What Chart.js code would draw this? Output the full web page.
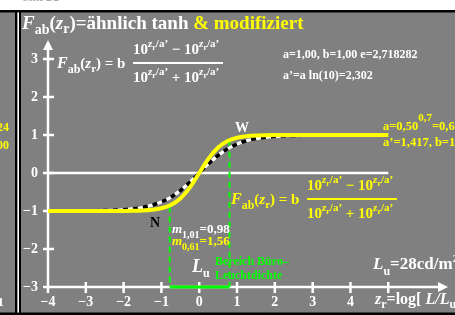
<!DOCTYPE html>
<html>
<head>
<meta charset="utf-8">
<script src="https://cdn.jsdelivr.net/npm/chart.js@4"></script>
<style>
  html, body { margin: 0; padding: 0; background: #fff; }
  #wrap { width: 455px; height: 315px; }
</style>
</head>
<body>
<div id="wrap"><canvas id="c" width="455" height="315"></canvas></div>
<script>
'use strict';

// ── data ──────────────────────────────────────────────────
const zr = [-4, -3.75, -3.5, -3.25, -3, -2.75, -2.5, -2.25, -2, -1.75, -1.5, -1.25, -1, -0.75, -0.5, -0.25,
  0, 0.25, 0.5, 0.75, 1, 1.25, 1.5, 1.75, 2, 2.25, 2.5, 2.75, 3, 3.25, 3.5, 3.75, 4, 4.25, 4.5, 4.75, 5];
// black/white dashed curve (a=1,00)
const fTanh = [-0.999, -0.999, -0.998, -0.997, -0.995, -0.992, -0.987, -0.978, -0.964, -0.941, -0.905, -0.848, -0.762, -0.635, -0.462, -0.245,
  0, 0.245, 0.462, 0.635, 0.762, 0.848, 0.905, 0.941, 0.964, 0.978, 0.987, 0.992, 0.995, 0.997, 0.998, 0.999, 0.999, 1.0, 1.0, 1.0, 1.0];
// yellow curve (modifiziert, a'=1,417)
const fMod = [-1.0, -1.0, -1.0, -1.0, -1.0, -1.0, -0.999, -0.999, -0.997, -0.993, -0.985, -0.966, -0.926, -0.840, -0.671, -0.385,
  0, 0.385, 0.671, 0.840, 0.926, 0.966, 0.985, 0.993, 0.997, 0.999, 0.999, 1.0, 1.0, 1.0, 1.0, 1.0, 1.0, 1.0, 1.0, 1.0, 1.0];
// green range "Bereich Büro-Leuchtdichte"
const rangeX = [-0.78, 0.80];
const rangeTop = [-0.88, 0.82];
const zeroLineX = [-4, 5];
const xTicks = [-4, -3, -2, -1, 0, 1, 2, 3, 4, 5];
const xTickLabels = ['−4', '−3', '−2', '−1', '0', '1', '2', '3', '4', ''];
const yTicks = [-3, -2, -1, 0, 1, 2, 3];
const yTickLabels = ['−3', '−2', '−1', '0', '1', '2', '3'];

const GRAY = '#808080', WHITE = '#ffffff', YELLOW = '#ffff00', GREEN = '#00ff00';
const SERIF = "'Liberation Serif','DejaVu Serif',serif";

const pts = (xa, ya) => xa.map((x, i) => ({ x, y: ya[i] }));

// draw a run of text parts: {t, c, it, s, dy}
function rich(ctx, x, y, parts, base) {
  let cx = x;
  parts.forEach(p => {
    const size = p.s || base.s;
    ctx.font = `${p.it ? 'italic ' : ''}bold ${size}px ${SERIF}`;
    ctx.fillStyle = p.c || base.c;
    ctx.textBaseline = 'alphabetic';
    ctx.textAlign = 'left';
    ctx.fillText(p.t, cx, y + (p.dy || 0));
    cx += ctx.measureText(p.t).width;
  });
  return cx;
}

function powTerm(sign) {
  return [
    { t: sign + '10' },
    { t: 'z', it: true, s: 11, dy: -7 },
    { t: 'r', s: 8, dy: -4 },
    { t: '/a’', s: 11, dy: -7 },
  ];
}

function formula(ctx, x, barX, barY, color) {
  const b = { s: 15, c: color };
  rich(ctx, x, barY + 5, [
    { t: 'F', it: true, s: 16 }, { t: 'ab', s: 12, dy: 5 },
    { t: '(' }, { t: 'z', it: true }, { t: 'r', s: 11, dy: 4 }, { t: ') = b' }
  ], b);
  const num = powTerm('').concat(powTerm(' − '));
  const den = powTerm('').concat(powTerm(' + '));
  rich(ctx, barX, barY - 9, num, b);
  rich(ctx, barX, barY + 19, den, b);
  ctx.fillStyle = color;
  ctx.fillRect(barX, barY - 1, 90, 2);
}

const decor = {
  id: 'decor',
  beforeDraw(chart) {
    const ctx = chart.ctx;
    ctx.save();
    ctx.fillStyle = '#fff';
    ctx.fillRect(0, 0, 455, 315);
    ctx.fillStyle = GRAY;
    ctx.fillRect(0, 12, 455, 303);
    ctx.fillStyle = '#000';
    ctx.fillRect(0, 10, 455, 2.5);
    ctx.fillRect(0, 312.5, 455, 3);
    ctx.fillRect(15, 10, 2.5, 305);
    ctx.fillRect(19, 10, 2, 305);
    ctx.fillStyle = '#fff';
    ctx.fillRect(17.5, 12.5, 1.5, 300);
    ctx.font = `bold 10px ${SERIF}`;
    ctx.fillStyle = '#aaa';
    ctx.fillText('Seite 2/2', 23, 1);
    // left neighbour panel (cut)
    ctx.textAlign = 'right';
    ctx.font = `bold 12px ${SERIF}`;
    ctx.fillStyle = YELLOW;
    ctx.fillText('0,624', 9, 131);
    ctx.fillText('b=1,00', 9, 149);
    ctx.fillStyle = WHITE;
    ctx.font = `bold 13px ${SERIF}`;
    ctx.fillText('1', 4, 306);
    ctx.restore();
  },
  beforeDatasetsDraw(chart) {
    const ctx = chart.ctx, xs = chart.scales.x, ys = chart.scales.y;
    const x0 = xs.getPixelForValue(-4), yb = ys.getPixelForValue(-3);
    const xEnd = chart.chartArea.right, yTop = chart.chartArea.top;
    ctx.save();
    ctx.strokeStyle = WHITE;
    ctx.fillStyle = WHITE;
    ctx.lineWidth = 2.5;
    ctx.beginPath();
    ctx.moveTo(x0, yb); ctx.lineTo(x0, yTop + 8);
    ctx.moveTo(x0, yb); ctx.lineTo(xEnd - 8, yb);
    yTicks.forEach(v => {
      const y = ys.getPixelForValue(v);
      ctx.moveTo(x0 - 5, y); ctx.lineTo(x0 + 6, y);
    });
    xTicks.forEach(v => {
      const x = xs.getPixelForValue(v);
      ctx.moveTo(x, yb - 5); ctx.lineTo(x, yb + 6);
    });
    ctx.stroke();
    ctx.beginPath();
    ctx.moveTo(x0, yTop); ctx.lineTo(x0 - 5, yTop + 10); ctx.lineTo(x0 + 5, yTop + 10); ctx.closePath();
    ctx.moveTo(xEnd, yb); ctx.lineTo(xEnd - 10, yb - 5); ctx.lineTo(xEnd - 10, yb + 5); ctx.closePath();
    ctx.fill();
    ctx.restore();
  },
  afterDraw(chart) {
    const ctx = chart.ctx;
    ctx.save();
    const t = { s: 19, c: WHITE };
    rich(ctx, 22, 29, [
      { t: 'F', it: true }, { t: 'ab', s: 14, dy: 5 }, { t: '(' }, { t: 'z', it: true },
      { t: 'r', s: 14, dy: 4 }, { t: ')=ähnlich tanh ' }, { t: '& modifiziert', c: YELLOW }
    ], t);
    formula(ctx, 57, 133, 63, WHITE);
    formula(ctx, 231, 307, 199, YELLOW);

    const sm = { s: 12, c: WHITE };
    rich(ctx, 283, 58, [{ t: 'a=1,00, b=1,00 e=2,718282' }], sm);
    rich(ctx, 283, 79, [{ t: 'a’=a ln(10)=2,302' }], sm);
    const ys = { s: 12.5, c: YELLOW };
    rich(ctx, 383, 130, [{ t: 'a=0,50' }, { t: '0,7', s: 11, dy: -9 }, { t: '=0,624' }], ys);
    rich(ctx, 383, 146, [{ t: 'a’=1,417, b=1,00' }], ys);

    rich(ctx, 235, 132, [{ t: 'W' }], { s: 14, c: WHITE });
    rich(ctx, 150, 227, [{ t: 'N' }], { s: 14, c: '#000' });

    rich(ctx, 172, 233, [{ t: 'm', it: true }, { t: '1,01', s: 10, dy: 5 }, { t: '=0,98' }], { s: 13, c: WHITE });
    rich(ctx, 172, 245, [{ t: 'm', it: true }, { t: '0,61', s: 10, dy: 5 }, { t: '=1,56' }], { s: 13, c: YELLOW });

    rich(ctx, 192, 272, [{ t: 'L', it: true }, { t: 'u', s: 12, dy: 5 }], { s: 18, c: WHITE });
    rich(ctx, 215, 265, [{ t: 'Bereich Büro–' }], { s: 12, c: GREEN });
    rich(ctx, 215, 279, [{ t: 'Leuchtdichte' }], { s: 12, c: GREEN });

    rich(ctx, 373, 269, [{ t: 'L', it: true }, { t: 'u', s: 12, dy: 6 }, { t: '=28' }, { t: 'cd/m' }, { t: '2', s: 11, dy: -7 }], { s: 17, c: WHITE });
    rich(ctx, 375, 304, [{ t: 'z', it: true }, { t: 'r', s: 12, dy: 4 }, { t: '=log[ ' }, { t: 'L/L', it: true }, { t: 'u', s: 12, dy: 4 }, { t: ']' }], { s: 16, c: WHITE });
    ctx.restore();
  }
};

// datasets are painted last-to-first, so the top layer comes first
new Chart(document.getElementById('c').getContext('2d'), {
  type: 'line',
  data: {
    datasets: [
      { data: pts(zr, fMod), borderColor: YELLOW, borderWidth: 4, pointRadius: 0, cubicInterpolationMode: 'monotone' },
      { data: pts(zr, fTanh), borderColor: WHITE, borderWidth: 3.5, borderDash: [5, 5], pointRadius: 0, cubicInterpolationMode: 'monotone' },
      { data: pts(zr, fTanh), borderColor: '#000', borderWidth: 3.5, pointRadius: 0, cubicInterpolationMode: 'monotone' },
      { data: pts([rangeX[1], rangeX[1]], [rangeTop[1], -3]), borderColor: GREEN, borderWidth: 2, borderDash: [6, 4], pointRadius: 0 },
      { data: pts([rangeX[0], rangeX[0]], [rangeTop[0], -3]), borderColor: GREEN, borderWidth: 2, borderDash: [6, 4], pointRadius: 0 },
      { data: pts([rangeX[0], rangeX[1]], [-3, -3]), borderColor: GREEN, borderWidth: 3, pointRadius: 0 },
      { data: pts(zeroLineX, [0, 0]), borderColor: WHITE, borderWidth: 2.5, pointRadius: 0 },
    ]
  },
  options: {
    responsive: false,
    animation: false,
    clip: false,
    layout: { padding: { top: 40, right: 7, left: 0, bottom: 0 } },
    plugins: { legend: { display: false }, tooltip: { enabled: false } },
    scales: {
      x: {
        type: 'linear', min: -4, max: 6.58,
        grid: { display: false, drawTicks: false }, border: { display: false },
        afterBuildTicks: s => { s.ticks = xTicks.map(v => ({ value: v })); },
        afterFit: s => { s.height = 28; },
        ticks: {
          autoSkip: false, maxRotation: 0, padding: 7, color: WHITE,
          font: { family: SERIF, size: 14, weight: 'bold' },
          callback: v => xTickLabels[xTicks.indexOf(v)]
        }
      },
      y: {
        type: 'linear', min: -3, max: 3.5,
        grid: { display: false, drawTicks: false }, border: { display: false },
        afterBuildTicks: s => { s.ticks = yTicks.map(v => ({ value: v })); },
        afterFit: s => { s.width = 48; },
        ticks: {
          autoSkip: false, padding: 10, color: WHITE,
          font: { family: SERIF, size: 14, weight: 'bold' },
          callback: v => yTickLabels[yTicks.indexOf(v)]
        }
      }
    }
  },
  plugins: [decor]
});
</script>
</body>
</html>
